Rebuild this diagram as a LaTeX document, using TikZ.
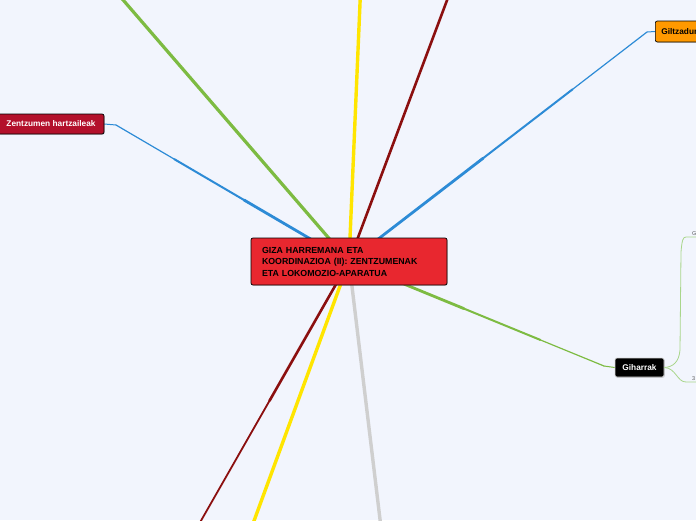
\documentclass[tikz,border=0pt]{standalone}
\usepackage{fontspec}
\setmainfont{Liberation Sans}
\usetikzlibrary{positioning, backgrounds, shadows, calc}

\definecolor{paper}{HTML}{F2F5FD}
\definecolor{hubred}{HTML}{E8272F}
\definecolor{senred}{HTML}{B3102B}
\definecolor{jointorange}{HTML}{FF9900}
\definecolor{bgreen}{HTML}{7DBB42}
\definecolor{byellow}{HTML}{FFE500}
\definecolor{bdarkred}{HTML}{8B0F0F}
\definecolor{bblue}{HTML}{2D8BD6}
\definecolor{bgray}{HTML}{CFCFCF}
\definecolor{twiggreen}{HTML}{A9D68B}

\begin{document}
\begin{tikzpicture}
  [
    x=1pt, y=-1pt,
    topic/.style={draw=black, line width=0.7pt, rounded corners=2pt, inner sep=0pt,
      drop shadow={shadow xshift=0.8pt, shadow yshift=-0.8pt, opacity=0.3}},
    subtopic/.style={topic, font=\fontsize{8.3}{10}\selectfont\bfseries,
      minimum height=20pt, inner xsep=6pt},
    leaf/.style={font=\fontsize{5.5}{6}\selectfont, text=black!65,
      inner xsep=6pt, inner ysep=1.5pt, anchor=south west},
    branch/.style={line cap=round},
    twig/.style={draw=twiggreen, line width=0.8pt}
  ]
  \useasboundingbox (0,0) rectangle (696,520);
  \clip (0,0) rectangle (696,520);

  \node[topic, fill=hubred, minimum width=196pt, minimum height=47pt,
    text width=174pt, inner xsep=11pt, align=left,
    font=\fontsize{8.8}{11.5}\selectfont\bfseries] (hub) at (349,261.5)
    {GIZA HARREMANA ETA\\KOORDINAZIOA (II): ZENTZUMENAK\\ETA LOKOMOZIO-APARATUA};

  \node[subtopic, fill=senred, text=white, minimum width=106pt] (senses) at (51,124)
    {Zentzumen hartzaileak};
  \node[subtopic, fill=jointorange, minimum height=21pt, anchor=west] (joints) at (655,31.5)
    {Giltzadurak};
  \node[subtopic, fill=black, draw=black!15, text=white, minimum width=49pt,
    minimum height=19pt] (muscles) at (639.5,367.5) {Giharrak};

  \node[leaf] (leafg) at (686,237) {G};
  \node[leaf] (leafthree) at (686,382) {3};

  \coordinate (sensesknee) at (116,125);
  \coordinate (jointsknee) at (647,32);
  \coordinate (musclesknee) at (604,366);
  \coordinate (greentop) at (105,-21);
  \coordinate (yellowtop) at (361,-20);
  \coordinate (darkredtop) at (455,-21);
  \coordinate (yellowbottom) at (247,540);
  \coordinate (darkredbottom) at (190,540);
  \coordinate (graybottom) at (382.5,540);

  \draw[twig] (muscles.east) .. controls (673,367) and (679,362) .. (680,350)
    -- (681,252) .. controls (682,240) and (683,237) .. (leafg.south west) -- ++(12,0);
  \draw[twig] (muscles.east) .. controls (676,368) and (677,382) .. (leafthree.south west)
    -- ++(12,0);

  \begin{scope}[on background layer]
    \clip (0,0) rectangle (696,520);
    \fill[paper] (0,0) rectangle (696,520);
    \draw[branch, draw=bgreen, line width=3.2pt] (hub.center) -- (greentop);
    \draw[branch, draw=byellow, line width=3.4pt] (hub.center) -- (yellowtop);
    \draw[branch, draw=bdarkred, line width=2.6pt] (hub.center) -- (darkredtop);
    \draw[branch, draw=byellow, line width=3.4pt] (hub.center) -- (yellowbottom);
    \draw[branch, draw=bgray, line width=3.4pt] (hub.center) -- (graybottom);
    \foreach \a/\b/\w in {0/.5/2.6, .48/1/1.8}
      \draw[branch, draw=bdarkred, line width=\w pt]
        ($(hub.center)!\a!(darkredbottom)$) -- ($(hub.center)!\b!(darkredbottom)$);
    \foreach \c/\k in {bblue/sensesknee, bblue/jointsknee, bgreen/musclesknee}
      \foreach \a/\b/\w in {0/.45/2.8, .43/.75/2, .73/1/1.2}
        \draw[branch, draw=\c, line width=\w pt]
          ($(hub.center)!\a!(\k)$) -- ($(hub.center)!\b!(\k)$);
    \draw[branch, draw=bblue, line width=1pt] (sensesknee) -- (senses.east);
    \draw[branch, draw=bblue, line width=1pt] (jointsknee) -- (joints.west);
    \draw[branch, draw=bgreen, line width=1pt] (musclesknee) -- (muscles.west);
  \end{scope}
\end{tikzpicture}
\end{document}
